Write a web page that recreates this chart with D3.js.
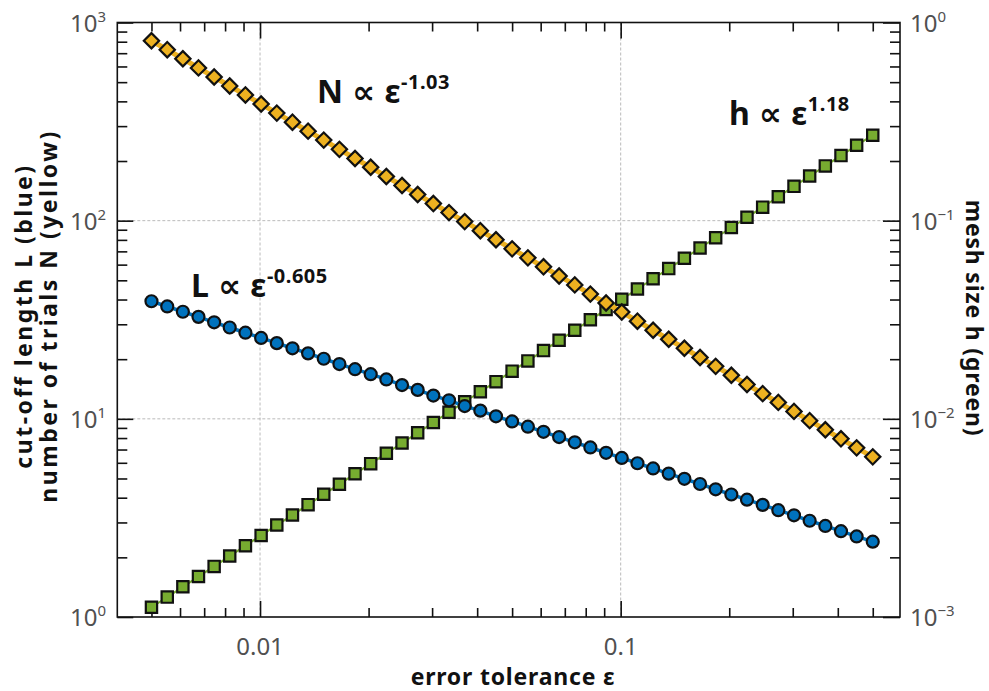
<!DOCTYPE html>
<html>
<head>
<meta charset="utf-8">
<script src="https://cdn.jsdelivr.net/npm/d3@7"></script>
<style>
  body { margin: 0; background: #fff; }
  text { font-family: "Noto Sans", "DejaVu Sans", sans-serif; }
  .ticklabel { fill: #505050; font-size: 24px; }
  .title { font-weight: bold; font-size: 23px; fill: #111; }
  .note { font-weight: bold; font-size: 32px; fill: #111; letter-spacing: 0.5px; }
</style>
</head>
<body>
<script>
// error tolerance (x values of the points)
var eps = [0.005, 0.00553, 0.00611, 0.00675, 0.00746, 0.00824, 0.00911, 0.01007, 0.01113, 0.0123,
  0.01359, 0.01502, 0.0166, 0.01834, 0.02027, 0.0224, 0.02476, 0.02736, 0.03024, 0.03342,
  0.03694, 0.04082, 0.04511, 0.05, 0.0553, 0.0611, 0.0675, 0.0746, 0.0824, 0.0911,
  0.1007, 0.1113, 0.123, 0.1359, 0.1502, 0.166, 0.1834, 0.2027, 0.224, 0.2476,
  0.2736, 0.3024, 0.3342, 0.3694, 0.4082, 0.4511, 0.5];

// number of trials N (yellow, left axis)
var trialsN = [809, 729, 656, 590, 531, 478, 431, 388, 349, 314,
  283, 255, 229, 206, 186, 167, 150.5, 135.5, 122, 109.8,
  98.9, 89.0, 80.1, 72.1, 64.9, 58.5, 52.6, 47.4, 42.6, 38.4,
  34.6, 31.1, 28.0, 25.2, 22.7, 20.4, 18.4, 16.6, 14.9, 13.4,
  12.1, 10.9, 9.79, 8.81, 7.93, 7.14, 6.43];

// cut-off length L (blue, left axis)
var cutoffL = [39.2, 36.9, 34.7, 32.7, 30.7, 28.9, 27.2, 25.6, 24.1, 22.7,
  21.4, 20.1, 18.9, 17.8, 16.8, 15.8, 14.8, 14.0, 13.1, 12.4,
  11.6, 11.0, 10.3, 9.70, 9.13, 8.60, 8.09, 7.61, 7.17, 6.74,
  6.35, 5.97, 5.62, 5.29, 4.98, 4.69, 4.41, 4.15, 3.91, 3.68,
  3.46, 3.26, 3.06, 2.88, 2.71, 2.55, 2.40];

// mesh size h (green, right axis)
var meshH = [0.00112, 0.00126, 0.00142, 0.00160, 0.00180, 0.00203, 0.00229, 0.00258, 0.00291, 0.00327,
  0.00369, 0.00416, 0.00468, 0.00528, 0.00594, 0.00670, 0.00755, 0.00850, 0.00958, 0.0108,
  0.0122, 0.0137, 0.0154, 0.0174, 0.0196, 0.0221, 0.0249, 0.0280, 0.0316, 0.0356,
  0.0401, 0.0452, 0.0509, 0.0573, 0.0646, 0.0728, 0.0820, 0.0924, 0.104, 0.117,
  0.132, 0.149, 0.168, 0.189, 0.213, 0.240, 0.270];

// ticks
var xMajor = [0.01, 0.1];
var xMajorLabels = ["0.01", "0.1"];
var xMinor = [0.005, 0.006, 0.007, 0.008, 0.009, 0.02, 0.03, 0.04, 0.05, 0.06, 0.07, 0.08, 0.09,
  0.2, 0.3, 0.4, 0.5];
var leftMajor = [1, 10, 100, 1000];
var leftExp = ["0", "1", "2", "3"];
var leftMinor = [2, 3, 4, 5, 6, 7, 8, 9, 20, 30, 40, 50, 60, 70, 80, 90, 200, 300, 400, 500, 600, 700, 800, 900];
var rightMajor = [0.001, 0.01, 0.1, 1];
var rightExp = ["\u22123", "\u22122", "\u22121", "0"];
var rightMinor = [0.002, 0.003, 0.004, 0.005, 0.006, 0.007, 0.008, 0.009, 0.02, 0.03, 0.04, 0.05,
  0.06, 0.07, 0.08, 0.09, 0.2, 0.3, 0.4, 0.5, 0.6, 0.7, 0.8, 0.9];

var width = 989, height = 691;
var padLeft = 117.3, padRight = 900, padTop = 22.5, padBottom = 617;

var svg = d3.select("body").append("svg")
  .attr("width", width)
  .attr("height", height);

var x = d3.scaleLog().domain([0.00402, 0.595]).range([padLeft, padRight]);
var yL = d3.scaleLog().domain([1, 1000]).range([padBottom, padTop]);
var yR = d3.scaleLog().domain([0.001, 1]).range([padBottom, padTop]);

// grid
svg.append("g").selectAll("line").data(xMajor).enter().append("line")
  .attr("x1", function(d) { return x(d); }).attr("x2", function(d) { return x(d); })
  .attr("y1", padTop).attr("y2", padBottom)
  .attr("stroke", "#aaa").attr("stroke-width", 0.8).attr("stroke-dasharray", "3,2");
svg.append("g").selectAll("line").data([10, 100]).enter().append("line")
  .attr("y1", function(d) { return yL(d); }).attr("y2", function(d) { return yL(d); })
  .attr("x1", padLeft).attr("x2", padRight)
  .attr("stroke", "#aaa").attr("stroke-width", 0.8).attr("stroke-dasharray", "3,2");

// tick marks (inward)
function drawTicks(axis, tr) {
  var g = svg.append("g").attr("transform", tr).call(axis);
  g.select(".domain").remove();
  g.selectAll("line").attr("stroke", "#111").attr("stroke-width", 1.6);
  g.selectAll("text").remove();
}
drawTicks(d3.axisBottom(x).tickValues(xMajor).tickSize(-16), "translate(0," + padBottom + ")");
drawTicks(d3.axisBottom(x).tickValues(xMinor).tickSize(-9), "translate(0," + padBottom + ")");
drawTicks(d3.axisTop(x).tickValues(xMajor).tickSize(-16), "translate(0," + padTop + ")");
drawTicks(d3.axisTop(x).tickValues(xMinor).tickSize(-9), "translate(0," + padTop + ")");
drawTicks(d3.axisLeft(yL).tickValues(leftMajor).tickSize(-16), "translate(" + padLeft + ",0)");
drawTicks(d3.axisLeft(yL).tickValues(leftMinor).tickSize(-10), "translate(" + padLeft + ",0)");
drawTicks(d3.axisRight(yR).tickValues(rightMajor).tickSize(-17), "translate(" + padRight + ",0)");
drawTicks(d3.axisRight(yR).tickValues(rightMinor).tickSize(-10), "translate(" + padRight + ",0)");

// frame
svg.append("rect")
  .attr("x", padLeft).attr("y", padTop)
  .attr("width", padRight - padLeft).attr("height", padBottom - padTop)
  .attr("fill", "none").attr("stroke", "#111").attr("stroke-width", 1.6);

// tick labels
svg.append("g").selectAll("text").data(xMajor).enter().append("text")
  .attr("class", "ticklabel")
  .attr("x", function(d) { return x(d); })
  .attr("y", 655)
  .attr("text-anchor", "middle")
  .text(function(d, i) { return xMajorLabels[i]; });

var lt = svg.append("g").selectAll("text").data(leftMajor).enter().append("text")
  .attr("class", "ticklabel")
  .attr("x", 106)
  .attr("y", function(d) { return yL(d) + 9; })
  .attr("text-anchor", "end");
lt.append("tspan").text("10");
lt.append("tspan").attr("dy", -10).attr("font-size", 15).text(function(d, i) { return leftExp[i]; });

var rt = svg.append("g").selectAll("text").data(rightMajor).enter().append("text")
  .attr("class", "ticklabel")
  .attr("x", 910)
  .attr("y", function(d) { return yR(d) + 9; });
rt.append("tspan").text("10");
rt.append("tspan").attr("dy", -10).attr("font-size", 15).text(function(d, i) { return rightExp[i]; });

// axis titles
svg.append("text").attr("class", "title")
  .attr("x", 513).attr("y", 685).attr("text-anchor", "middle")
  .attr("letter-spacing", 0.8)
  .text("error tolerance \u03b5");
svg.append("text").attr("class", "title")
  .attr("transform", "translate(32,316) rotate(-90)").attr("text-anchor", "middle")
  .attr("letter-spacing", 2.5)
  .text("cut-off length L (blue)");
svg.append("text").attr("class", "title")
  .attr("transform", "translate(57,316) rotate(-90)").attr("text-anchor", "middle")
  .attr("letter-spacing", 2.5)
  .text("number of trials N (yellow)");
svg.append("text").attr("class", "title")
  .attr("transform", "translate(966,318) rotate(90)").attr("text-anchor", "middle")
  .attr("letter-spacing", 0.8)
  .text("mesh size h (green)");

// series
function drawSeries(vals, yScale, color, lw, symbol, size, rot) {
  var pts = eps.map(function(e, i) { return [x(e), yScale(vals[i])]; });
  svg.append("path")
    .attr("d", d3.line()(pts))
    .attr("fill", "none")
    .attr("stroke", color)
    .attr("stroke-width", lw);
  svg.append("g").selectAll("path").data(pts).enter().append("path")
    .attr("d", d3.symbol().type(symbol).size(size))
    .attr("transform", function(p) { return "translate(" + p[0] + "," + p[1] + ") rotate(" + rot + ")"; })
    .attr("fill", color)
    .attr("stroke", "#111")
    .attr("stroke-width", 2.2);
}
drawSeries(meshH, yR, "#77AC30", 2, d3.symbolSquare, 11.3 * 11.3, 0);
drawSeries(cutoffL, yL, "#0072BD", 3.5, d3.symbolCircle, Math.PI * 6 * 6, 0);
drawSeries(trialsN, yL, "#EDB120", 5, d3.symbolSquare, 10.8 * 10.8, 45);

// annotations
function note(xp, yp, base, sup) {
  var t = svg.append("text").attr("class", "note").attr("x", xp).attr("y", yp);
  t.append("tspan").text(base);
  t.append("tspan").attr("dy", -14).attr("font-size", 20).text(sup);
}
note(317, 103, "N \u221d \u03b5", "-1.03");
note(729, 125, "h \u221d \u03b5", "1.18");
note(191, 297, "L \u221d \u03b5", "-0.605");
</script>
</body>
</html>
